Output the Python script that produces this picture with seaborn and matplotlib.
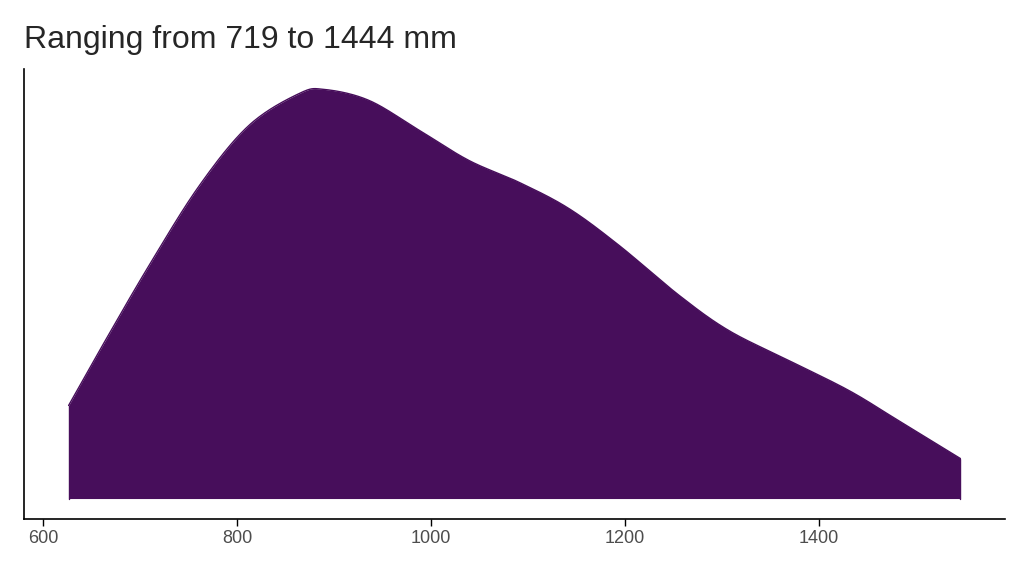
import numpy as np
import matplotlib
matplotlib.use("Agg")
import matplotlib.pyplot as plt
import seaborn as sns

# density curve (rainfall mm, relative density)
rain_mm = [626, 658, 709, 761, 812, 864, 890, 936, 988, 1039, 1091,
           1142, 1194, 1256, 1307, 1369, 1431, 1482, 1546]
density = [93, 148, 233, 313, 373, 405, 409, 398, 368, 338, 316,
           290, 253, 203, 168, 138, 108, 78, 40]
x_ticks = [600, 800, 1000, 1200, 1400]
title = "Ranging from 719 to 1444 mm"


def smooth(xs, ys, n=30):
    # catmull-rom through the read points, just for a smooth outline
    p = np.column_stack([xs, ys]).astype(float)
    p = np.vstack([p[0], p, p[-1]])
    out = []
    t = np.linspace(0, 1, n, endpoint=False)[:, None]
    for i in range(1, len(p) - 2):
        p0, p1, p2, p3 = p[i - 1], p[i], p[i + 1], p[i + 2]
        seg = 0.5 * ((2 * p1) + (-p0 + p2) * t + (2 * p0 - 5 * p1 + 4 * p2 - p3) * t ** 2
                     + (-p0 + 3 * p1 - 3 * p2 + p3) * t ** 3)
        out.append(seg)
    out.append(p[-2][None, :])
    out = np.vstack(out)
    return out[:, 0], out[:, 1]


sns.set_theme(style="white")
plt.rcParams['font.family'] = ['Liberation Sans', 'DejaVu Sans']

fig = plt.figure(figsize=(10.24, 5.76), dpi=100)
ax = fig.add_axes([24 / 1024, 1 - 519 / 576, 981 / 1024, 450 / 576])

sx, sy = smooth(rain_mm, density)
ax.fill_between(sx, 0, sy, color="#470E5B", linewidth=0)
sns.lineplot(x=sx, y=sy, ax=ax, color="#470E5B", sort=False, linewidth=1)
ax.plot([sx[0], sx[0]], [0, sy[0]], color="#470E5B", lw=1)
ax.plot([sx[-1], sx[-1]], [0, sy[-1]], color="#470E5B", lw=1)

rng = max(rain_mm) - min(rain_mm)
ax.set_xlim(min(rain_mm) - 0.05 * rng, max(rain_mm) + 0.05 * rng)
ax.set_ylim(-0.05 * max(density), 1.05 * max(density))
ax.set_yticks([])
ax.set_xticks(x_ticks)
ax.set_xticklabels([str(v) for v in x_ticks], color="#4D4D4D", fontsize=13)
ax.tick_params(axis="x", bottom=True, length=5, width=1, color="black", pad=3)
for s in ["top", "right"]:
    ax.spines[s].set_visible(False)
for s in ["left", "bottom"]:
    ax.spines[s].set_color("black")
    ax.spines[s].set_linewidth(1.2)
ax.set_xlabel("")
ax.set_ylabel("")
fig.text(24 / 1024, 1 - 48 / 576, title, fontsize=23, ha="left", va="baseline")

fig.savefig("out.png", dpi=100)
